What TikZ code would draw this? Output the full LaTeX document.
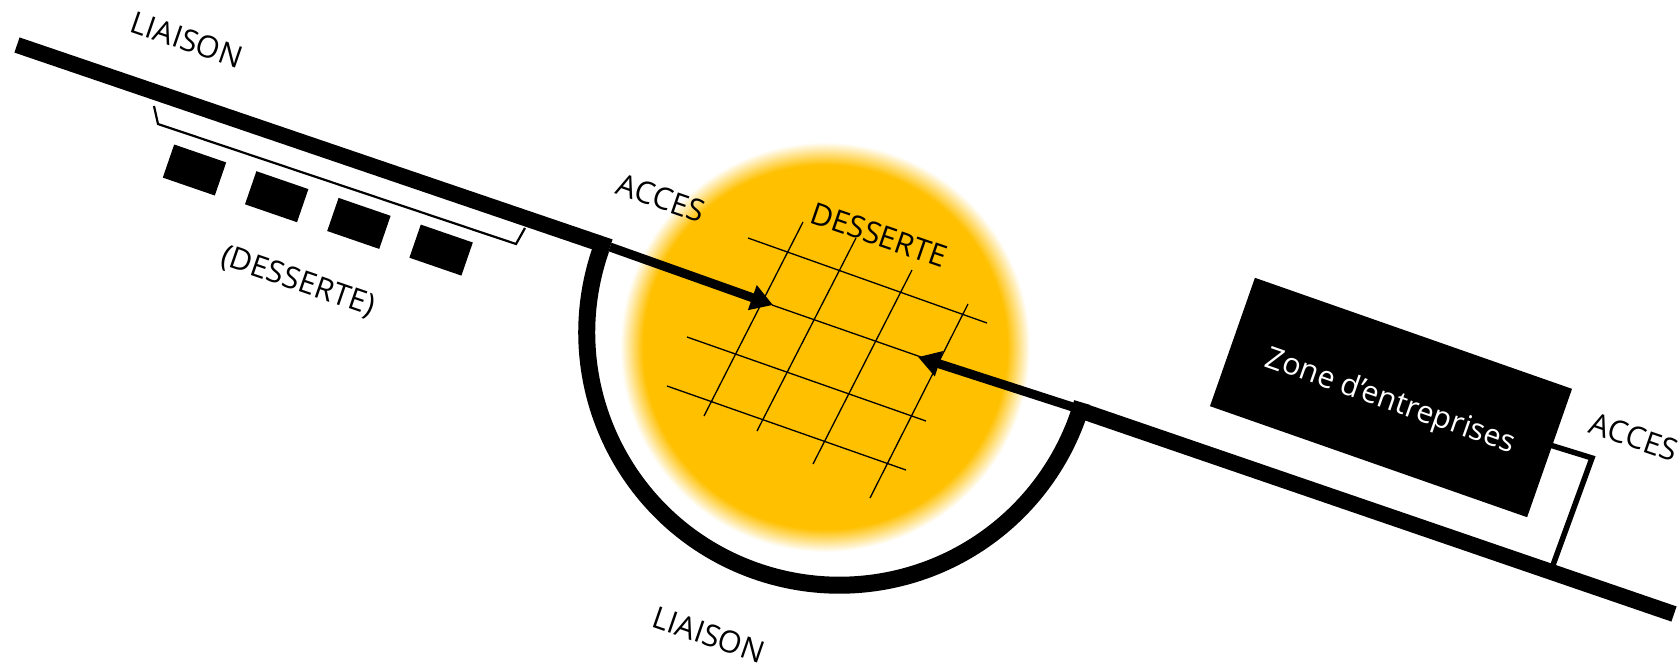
\documentclass[tikz,border=0pt]{standalone}
\usepackage{fontspec}
\setmainfont{Open Sans}
\usetikzlibrary{arrows.meta, positioning}
\definecolor{zonegold}{RGB}{255, 192, 0}
\pgfdeclareradialshading{goldblur}{\pgfpointorigin}{color(0bp)=(zonegold); color(22.2bp)=(zonegold); color(25bp)=(white); color(50bp)=(white)}

\begin{document}
\begin{tikzpicture}[
  x=1pt, y=-1pt,
  road/.style={line width=16pt},
  gridline/.style={line width=1.3pt},
  accessline/.style={line width=9pt, -{Triangle[length=22pt, width=25pt]}},
  sideroad/.style={line width=2.2pt, line join=miter},
  plot/.style={fill=black, rotate=-19, minimum width=55pt, minimum height=35pt, inner sep=0pt},
  biglabel/.style={font=\fontsize{30.5}{32}\selectfont, rotate=-19, inner sep=0pt}
]
  \useasboundingbox (0, 0) rectangle (1678, 665);

  \shade[shading=goldblur] (825, 347) circle (205);

  \foreach \xa/\ya/\xb/\yb in {748/238/987/323, 772/305/921/357, 687/337/926/421, 667/386/906/470,
    803/222/704/416, 856/238/757/431, 912/270/813/464, 968/304/870/498} {
    \draw[gridline] (\xa, \ya) -- (\xb, \yb);
  }

  \coordinate (roadA) at (17, 45);
  \coordinate (roadB) at (610, 247);
  \coordinate (roadC) at (1085, 412);
  \coordinate (roadD) at (1674, 614);
  \coordinate (arcA) at (601, 249);
  \coordinate (tipA) at (773, 305);
  \coordinate (tipB) at (918, 357);
  \coordinate (accessA) at (1550, 445);
  \coordinate (accessB) at (1592, 458);
  \coordinate (accessC) at (1553, 565);

  \draw[road] (roadA) -- (roadB);
  \draw[road] (roadC) -- (roadD);
  \draw[road, line width=17pt] (arcA) arc[start angle=160.7, end angle=343.9, radius=252.7pt];

  \draw[accessline] (roadB) -- (tipA);
  \draw[accessline] (1082, 410) -- (tipB);

  \draw[sideroad] (154, 106) -- (158, 124) -- (516, 244) -- (525, 228);
  \foreach \i in {0, 1, 2, 3} {
    \node[plot] (plot\i) at ({194.5 + 82.2*\i}, {170 + 26.7*\i}) {};
  }

  \node[fill=black, rotate=-19.3, minimum width=336pt, minimum height=136pt] (zone) at (1391, 397.5) {};
  \node[biglabel, rotate=-0.3, text=white] (zoneText) at (1390, 402) {Zone d’entreprises};
  \draw[line width=5.5pt] (accessA) -- (accessB) -- (accessC);

  \node[biglabel] (liaisonA) at (187, 40) {LIAISON};
  \node[biglabel] (dessertePlots) at (298, 282) {(DESSERTE)};
  \node[biglabel] (accesA) at (661, 198) {ACCES};
  \node[biglabel] (desserte) at (879, 235) {DESSERTE};
  \node[biglabel] (liaisonB) at (709, 635) {LIAISON};
  \node[biglabel] (accesB) at (1634, 437) {ACCES};
\end{tikzpicture}
\end{document}
